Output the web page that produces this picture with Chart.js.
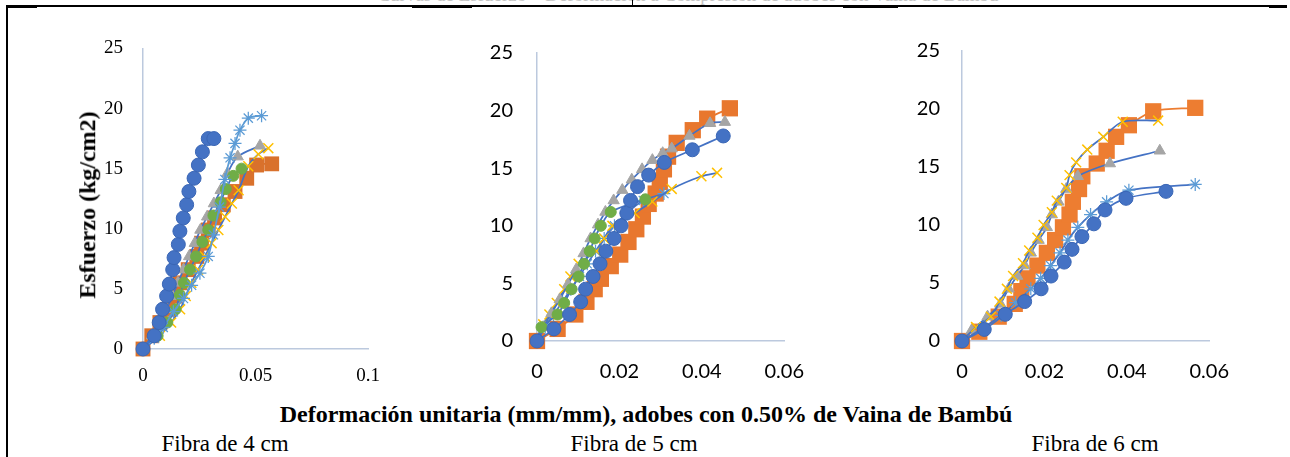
<!DOCTYPE html>
<html>
<head>
<meta charset="utf-8">
<script src="https://cdn.jsdelivr.net/npm/chart.js@4.4.1/dist/chart.umd.min.js"></script>
<style>
  body { margin: 0; width: 1290px; height: 457px; background: #fff; position: relative; overflow: hidden; }
  canvas, .txt, .ln { position: absolute; }
  .ln { background: #000; }
  .txt { font-family: "Liberation Serif", "Times New Roman", serif; color: #000; white-space: nowrap; line-height: 1.15; }
</style>
</head>
<body>
<div class="txt" style="left:688px; top:-15px; font-size:19px; line-height:20px; color:#c4c4c4; transform:translateX(-50%);">Curvas de Esfuerzo – Deformación a Compresión de adobes con Vaina de Bambú</div>
<div class="ln" style="left:6px; top:5px; width:1281px; height:1.5px;"></div>
<div class="ln" style="left:6px; top:5px; width:2px; height:452px;"></div>
<div class="ln" style="left:6px; top:5px; width:31px; height:3px;"></div>
<div class="ln" style="left:412px; top:5px; width:60px; height:3px;"></div>
<div class="ln" style="left:843px; top:5px; width:55px; height:3px;"></div>
<div class="ln" style="left:1269px; top:5px; width:18px; height:3px;"></div>
<div class="ln" style="left:632px; top:0px; width:1px; height:6px;"></div>

<canvas id="c4"></canvas>
<canvas id="c5"></canvas>
<canvas id="c6"></canvas>

<div class="txt" style="left:88px; top:205px; font-size:24px; font-weight:bold; transform:translate(-50%,-50%) rotate(-90deg);">Esfuerzo (kg/cm2)</div>
<div class="txt" style="left:646px; top:401px; font-size:24px; font-weight:bold; transform:translateX(-50%);">Deformación unitaria (mm/mm), adobes con 0.50% de Vaina de Bambú</div>
<div class="txt" style="left:225px; top:431px; font-size:23px; transform:translateX(-50%);">Fibra de 4 cm</div>
<div class="txt" style="left:634px; top:431px; font-size:23px; transform:translateX(-50%);">Fibra de 5 cm</div>
<div class="txt" style="left:1095px; top:431px; font-size:23px; transform:translateX(-50%);">Fibra de 6 cm</div>

<script>
// ticks
const yTicks = [0, 5, 10, 15, 20, 25];
const xTicks4 = [0, 0.05, 0.1];
const xTicks56 = [0, 0.02, 0.04, 0.06];

// Fibra de 4 cm
const f4CircX = [0, 0.005, 0.0072, 0.0087, 0.0105, 0.0117, 0.0132, 0.0138, 0.0157, 0.0164, 0.0179, 0.0194, 0.0204, 0.0227, 0.0246, 0.0264, 0.029, 0.0315];
const f4CircY = [0, 1.1, 2.2, 3.3, 4.4, 5.4, 6.6, 7.6, 8.7, 9.8, 10.9, 12.0, 13.1, 14.2, 15.3, 16.4, 17.5, 17.5];
const f4SqX = [0, 0.0039, 0.0075, 0.011, 0.0142, 0.0164, 0.0201, 0.0239, 0.026, 0.029, 0.0318, 0.0357, 0.0409, 0.0461, 0.0505, 0.0572];
const f4SqY = [0, 1.1, 2.2, 3.3, 4.4, 5.5, 6.6, 7.7, 8.8, 9.9, 10.9, 12.0, 13.1, 14.2, 15.3, 15.4];
const f4TriX = [0, 0.004, 0.0075, 0.0105, 0.013, 0.0155, 0.018, 0.0205, 0.023, 0.0255, 0.0285, 0.0315, 0.0345, 0.0375, 0.0421, 0.052];
const f4TriY = [0, 1.1, 2.2, 3.3, 4.4, 5.5, 6.6, 7.7, 8.8, 9.9, 11.0, 12.1, 13.2, 14.6, 16.0, 16.9];
const f4XmkX = [0, 0.0075, 0.0125, 0.0165, 0.019, 0.0215, 0.0245, 0.0275, 0.0305, 0.0335, 0.0365, 0.0395, 0.0425, 0.0468, 0.0513, 0.0557];
const f4XmkY = [0, 1.1, 2.2, 3.3, 4.4, 5.5, 6.6, 7.7, 8.8, 9.9, 11.0, 12.1, 13.2, 15.2, 16.2, 16.7];
const f4StarX = [0, 0.005, 0.009, 0.0135, 0.018, 0.0216, 0.0253, 0.029, 0.0313, 0.034, 0.0364, 0.0387, 0.0409, 0.0431, 0.0468, 0.0527];
const f4StarY = [0, 0.9, 1.8, 3.1, 4.2, 5.3, 6.3, 7.7, 9.5, 11.8, 14.1, 15.9, 17.1, 18.2, 19.2, 19.4];
const f4GreenX = [0, 0.0065, 0.0108, 0.0145, 0.0164, 0.0182, 0.0209, 0.0236, 0.0264, 0.029, 0.0313, 0.0345, 0.0368, 0.0401, 0.0438];
const f4GreenY = [0, 1.1, 2.2, 3.3, 4.5, 5.5, 6.6, 7.7, 8.9, 9.9, 11.1, 12.2, 13.3, 14.4, 15.0];

// Fibra de 5 cm
const f5CircX = [0, 0.0041, 0.0079, 0.0106, 0.0118, 0.0136, 0.0153, 0.0167, 0.0187, 0.0204, 0.0218, 0.0227, 0.0244, 0.0271, 0.0309, 0.0377, 0.0452];
const f5CircY = [0, 1.05, 2.3, 3.4, 4.5, 5.6, 6.7, 7.8, 8.9, 10.0, 11.1, 12.2, 13.4, 14.4, 15.5, 16.6, 17.8];
const f5SqX = [0, 0.005, 0.0093, 0.012, 0.014, 0.0155, 0.0179, 0.0202, 0.0222, 0.0241, 0.0257, 0.0271, 0.0288, 0.0298, 0.0308, 0.0318, 0.0339, 0.0378, 0.0413, 0.0468];
const f5SqY = [0, 1.05, 2.3, 3.4, 4.5, 5.4, 6.5, 7.5, 8.6, 9.7, 10.8, 11.9, 12.8, 13.8, 14.9, 16.0, 17.2, 18.3, 19.3, 20.2];
const f5TriX = [0, 0.0015, 0.0035, 0.0055, 0.0075, 0.0095, 0.0113, 0.013, 0.0148, 0.0166, 0.0186, 0.0207, 0.023, 0.0255, 0.028, 0.0305, 0.0327, 0.037, 0.042, 0.0456];
const f5TriY = [0, 1.2, 2.4, 3.6, 4.9, 6.2, 7.6, 8.9, 10.1, 11.2, 12.2, 13.1, 14.0, 14.9, 15.7, 16.3, 16.7, 17.8, 18.9, 19.0];
const f5XmkX = [0, 0.0015, 0.003, 0.0048, 0.0066, 0.0081, 0.0101, 0.0144, 0.0163, 0.0183, 0.0237, 0.028, 0.0327, 0.0399, 0.0437];
const f5XmkY = [0, 1.45, 2.3, 3.3, 4.5, 5.6, 6.7, 7.8, 8.9, 10.0, 11.1, 12.1, 13.2, 14.3, 14.6];
const f5StarX = [0, 0.002, 0.004, 0.0062, 0.0082, 0.0103, 0.0122, 0.0142, 0.0163, 0.0188, 0.0218, 0.0258, 0.0308];
const f5StarY = [0, 1.2, 2.3, 3.4, 4.5, 5.6, 6.7, 7.8, 8.9, 10.0, 11.1, 12.2, 12.8];
const f5GreenX = [0, 0.0011, 0.005, 0.0066, 0.0084, 0.0101, 0.0114, 0.0128, 0.014, 0.0155, 0.0179, 0.0263];
const f5GreenY = [0, 1.2, 2.3, 3.3, 4.5, 5.6, 6.7, 7.8, 8.9, 10.0, 11.2, 12.3];

// Fibra de 6 cm
const f6CircX = [0, 0.0054, 0.0105, 0.0152, 0.0192, 0.0216, 0.0248, 0.0267, 0.0291, 0.032, 0.0347, 0.0398, 0.0495];
const f6CircY = [0, 1.0, 2.3, 3.4, 4.5, 5.6, 6.8, 7.9, 9.0, 10.1, 11.3, 12.3, 12.9];
const f6SqX = [0, 0.0042, 0.0089, 0.0128, 0.0144, 0.0159, 0.0183, 0.0206, 0.0226, 0.0245, 0.0261, 0.0269, 0.0284, 0.0292, 0.0327, 0.0351, 0.0374, 0.0405, 0.0464, 0.0566];
const f6SqY = [0, 0.8, 2.1, 3.2, 4.3, 5.4, 6.5, 7.6, 8.7, 9.8, 10.9, 12.0, 13.1, 14.2, 15.3, 16.4, 17.6, 18.6, 19.8, 20.1];
const f6TriX = [0, 0.0023, 0.0062, 0.0093, 0.0113, 0.0134, 0.0152, 0.0167, 0.0186, 0.0206, 0.0218, 0.0234, 0.0253, 0.0281, 0.0359, 0.048];
const f6TriY = [0, 0.9, 2.1, 3.2, 4.5, 5.6, 6.5, 7.6, 8.7, 9.8, 10.9, 12.0, 13.1, 14.2, 15.3, 16.4];
const f6XmkX = [0, 0.0034, 0.007, 0.0091, 0.0109, 0.0124, 0.0148, 0.0163, 0.0183, 0.0198, 0.0218, 0.023, 0.0253, 0.0261, 0.0277, 0.0304, 0.0343, 0.039, 0.0476];
const f6XmkY = [0, 1.2, 2.1, 3.4, 4.5, 5.6, 6.7, 7.8, 8.9, 10.0, 11.1, 12.1, 13.2, 14.3, 15.4, 16.5, 17.6, 18.9, 19.0];
const f6StarX = [0, 0.005, 0.0095, 0.013, 0.0167, 0.0191, 0.0215, 0.0238, 0.0257, 0.0281, 0.0312, 0.0351, 0.0405, 0.0566];
const f6StarY = [0, 1.1, 2.2, 3.3, 4.5, 5.4, 6.5, 7.6, 8.7, 9.8, 10.9, 12.0, 13.0, 13.5];

const lineBlue = '#4472C4';
const axisColor = '#BCC9DE';

function pts(xs, ys) {
    return xs.map((x, i) => ({ x: x, y: ys[i] }));
}

function serie(xs, ys, look) {
    return Object.assign({
        data: pts(xs, ys),
        showLine: true,
        clip: false,
        tension: 0.3,
        borderWidth: 1.75,
        borderColor: lineBlue
    }, look);
}

const circ = { pointStyle: 'circle', pointRadius: 7, pointBackgroundColor: '#4472C4', pointBorderColor: '#3A66B5', pointBorderWidth: 1 };
const square = { pointStyle: 'rect', pointRadius: 11.5, pointBackgroundColor: '#E8772E', pointBorderColor: '#E8772E', pointBorderWidth: 0, borderColor: '#E8772E' };
const tri = { pointStyle: 'triangle', pointRadius: 6.5, pointBackgroundColor: '#A5A5A5', pointBorderColor: '#A5A5A5', pointBorderWidth: 1 };
const xmk = { pointStyle: 'crossRot', pointRadius: 7, pointBorderColor: '#FFC000', pointBorderWidth: 1.5 };
const star = { pointStyle: 'star', pointRadius: 6.5, pointBorderColor: '#5B9BD5', pointBorderWidth: 1.25 };
const green = { pointStyle: 'circle', pointRadius: 5.5, pointBackgroundColor: '#70AD47', pointBorderColor: '#70AD47', pointBorderWidth: 1 };

// box = plot area in page pixels
function drawChart(id, box, xMax, xTicks, tickFont, yPad, xPad, datasets) {
    const yW = 60, padTop = 20, xH = 45, padRight = 30;
    const cv = document.getElementById(id);
    const w = yW + (box.right - box.left) + padRight;
    const h = padTop + (box.bottom - box.top) + xH;
    cv.style.left = (box.left - yW) + 'px';
    cv.style.top = (box.top - padTop) + 'px';
    cv.width = w; cv.height = h;
    cv.style.width = w + 'px'; cv.style.height = h + 'px';

    new Chart(cv.getContext('2d'), {
        type: 'scatter',
        data: { datasets: datasets },
        options: {
            responsive: false,
            animation: false,
            devicePixelRatio: 1,
            layout: { padding: { top: padTop, right: padRight, left: 0, bottom: 0 } },
            plugins: { legend: { display: false }, tooltip: { enabled: false } },
            scales: {
                x: {
                    type: 'linear', min: 0, max: xMax,
                    afterBuildTicks: s => { s.ticks = xTicks.map(v => ({ value: v })); },
                    afterFit: s => { s.height = xH; },
                    grid: { drawOnChartArea: false, drawTicks: false },
                    border: { color: axisColor, width: 1.5 },
                    ticks: { padding: xPad, color: '#000', font: tickFont, maxRotation: 0, callback: v => String(v) }
                },
                y: {
                    type: 'linear', min: 0, max: 25,
                    afterBuildTicks: s => { s.ticks = yTicks.map(v => ({ value: v })); },
                    afterFit: s => { s.width = yW; },
                    grid: { drawOnChartArea: false, drawTicks: false },
                    border: { color: axisColor, width: 1.5 },
                    ticks: { padding: yPad, color: '#000', font: tickFont }
                }
            }
        }
    });
}

const serif = { family: 'Liberation Serif', size: 19 };
const sans = { family: 'Lato', size: 20 };

drawChart('c4', { left: 143, right: 368, top: 37, bottom: 349 }, 0.1, xTicks4, serif, 20, 16, [
    serie(f4CircX, f4CircY, circ),
    serie(f4StarX, f4StarY, Object.assign({}, star, { borderColor: '#5B9BD5' })),
    serie(f4GreenX, f4GreenY, green),
    serie(f4XmkX, f4XmkY, xmk),
    serie(f4TriX, f4TriY, tri),
    serie(f4SqX, f4SqY, Object.assign({}, square, { pointRadius: 10.5, pointBackgroundColor: '#D9712C', pointBorderColor: '#D9712C', borderColor: '#D9712C' }))
]);

drawChart('c5', { left: 537, right: 793, top: 37, bottom: 341 }, 0.06, xTicks56, sans, 24, 19, [
    serie(f5CircX, f5CircY, circ),
    serie(f5GreenX, f5GreenY, green),
    serie(f5TriX, f5TriY, tri),
    serie(f5XmkX, f5XmkY, xmk),
    serie(f5StarX, f5StarY, star),
    serie(f5SqX, f5SqY, square)
]);

drawChart('c6', { left: 962, right: 1218, top: 37, bottom: 341 }, 0.06, xTicks56, sans, 22, 19, [
    serie(f6CircX, f6CircY, circ),
    serie(f6StarX, f6StarY, star),
    serie(f6XmkX, f6XmkY, xmk),
    serie(f6TriX, f6TriY, tri),
    serie(f6SqX, f6SqY, Object.assign({}, square, { pointBackgroundColor: '#ED7D31', pointBorderColor: '#ED7D31', borderColor: '#ED7D31' }))
]);
</script>
</body>
</html>
